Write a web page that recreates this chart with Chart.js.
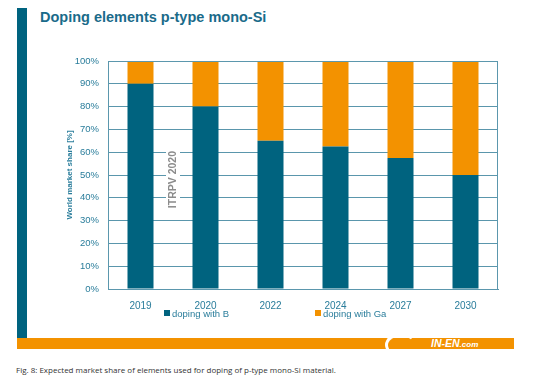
<!DOCTYPE html>
<html>
<head>
<meta charset="utf-8">
<script src="https://cdn.jsdelivr.net/npm/chart.js@4"></script>
<style>
  body { margin: 0; width: 536px; height: 378px; background: #fff; position: relative; overflow: hidden; font-family: "Liberation Sans", Arial, sans-serif; }
  #sidebar { position: absolute; left: 17px; top: 8px; width: 10px; height: 331px; background: #00637f; }
  #band { position: absolute; left: 17px; top: 338px; width: 497px; height: 11px; background: #f39200; }
  #title { position: absolute; left: 40px; top: 9px; font-weight: bold; font-size: 14.5px; color: #1a6b8a; }
  #wrap { position: absolute; left: 40px; top: 40px; width: 480px; height: 275px; }
  #legend { position: absolute; top: 308px; font-size: 9.5px; color: #2a7d9b; }
  #legend span.box { display: inline-block; width: 6px; height: 6px; margin-right: 2px; vertical-align: 1px; }
  #logo { position: absolute; left: 431px; top: 338px; color: #fff; font-weight: bold; font-style: italic; font-size: 10.5px; line-height: 11px; }
  #logo small { font-size: 8px; }
  #swoosh { position: absolute; left: 385px; top: 333px; width: 26px; height: 18px; border: 3px solid #fff; border-radius: 50%; border-bottom-color: transparent; border-right-color: transparent; }
  #caption { position: absolute; left: 16px; top: 364px; font-family: "Open Sans", sans-serif; font-size: 8px; color: #333; }
</style>
</head>
<body>
<div id="sidebar"></div>
<div id="title">Doping elements p-type mono-Si</div>
<div id="wrap"><canvas id="chart"></canvas></div>
<div id="legend">
  <span style="position:absolute;left:164px;white-space:nowrap"><span class="box" style="background:#00637f"></span>doping with B</span>
  <span style="position:absolute;left:315px;white-space:nowrap"><span class="box" style="background:#f39200"></span>doping with Ga</span>
</div>
<div id="band"></div>
<div id="swoosh"></div>
<div id="logo">IN-EN<small>.com</small></div>
<div id="caption">Fig. 8: Expected market share of elements used for doping of p-type mono-Si material.</div>
<script>
const years = ['2019', '2020', '2022', '2024', '2027', '2030']
const dopingB = [90, 80, 65, 62.5, 57.5, 50]
const dopingGa = [10, 20, 35, 37.5, 42.5, 50]
const yTicks = [0, 10, 20, 30, 40, 50, 60, 70, 80, 90, 100]

const teal = '#00637f'
const orange = '#f39200'
const textTeal = '#2a7d9b'

// rahmen um die plotfläche + ITRPV stempel
const extras = {
  id: 'extras',
  afterDatasetsDraw(chart) {
    const ctx = chart.ctx
    const a = chart.chartArea
    ctx.save()
    ctx.strokeStyle = '#5b97ad'
    ctx.lineWidth = 1
    ctx.strokeRect(a.left + 0.5, a.top + 0.5, a.right - a.left - 1, a.bottom - a.top)
    const x = chart.scales.x.getPixelForValue(0.5)
    const y = chart.scales.y.getPixelForValue(48)
    ctx.translate(x, y)
    ctx.rotate(-Math.PI / 2)
    ctx.font = 'bold 10.5px "Liberation Sans", Arial'
    ctx.textAlign = 'center'
    ctx.textBaseline = 'middle'
    const w = ctx.measureText('ITRPV 2020').width
    ctx.fillStyle = '#fff'
    ctx.fillRect(-w / 2 - 5, -7, w + 10, 14)
    ctx.fillStyle = '#8c8c8c'
    ctx.fillText('ITRPV 2020', 0, 0)
    ctx.restore()
  }
}

new Chart(document.getElementById('chart').getContext('2d'), {
  type: 'bar',
  data: {
    labels: years,
    datasets: [
      { label: 'doping with B', data: dopingB, backgroundColor: teal, barPercentage: 0.4, categoryPercentage: 1 },
      { label: 'doping with Ga', data: dopingGa, backgroundColor: orange, barPercentage: 0.4, categoryPercentage: 1 }
    ]
  },
  options: {
    responsive: true,
    maintainAspectRatio: false,
    animation: false,
    layout: { padding: { top: 21, right: 22, left: 0, bottom: 0 } },
    plugins: { legend: { display: false }, tooltip: { enabled: false } },
    scales: {
      x: {
        stacked: true,
        grid: { display: false },
        border: { color: '#5b97ad' },
        ticks: { color: textTeal, font: { family: '"Liberation Sans", Arial', size: 10 }, padding: 3 },
        afterFit: s => { s.height = 26 }
      },
      y: {
        stacked: true,
        min: 0,
        max: 100,
        afterBuildTicks: s => { s.ticks = yTicks.map(v => ({ value: v })) },
        grid: { color: '#5a96ac', lineWidth: 1, drawTicks: false },
        border: { color: '#5b97ad' },
        ticks: {
          color: textTeal,
          padding: 9,
          font: { family: '"Liberation Sans", Arial', size: 9.5 },
          callback: v => v + '%'
        },
        title: {
          display: true,
          text: 'World market share [%]',
          color: textTeal,
          font: { family: '"Liberation Sans", Arial', size: 8, weight: 'bold' },
          padding: { top: 25, bottom: 0 }
        },
        afterFit: s => { s.width = 68 }
      }
    }
  },
  plugins: [extras]
})
</script>
</body>
</html>
